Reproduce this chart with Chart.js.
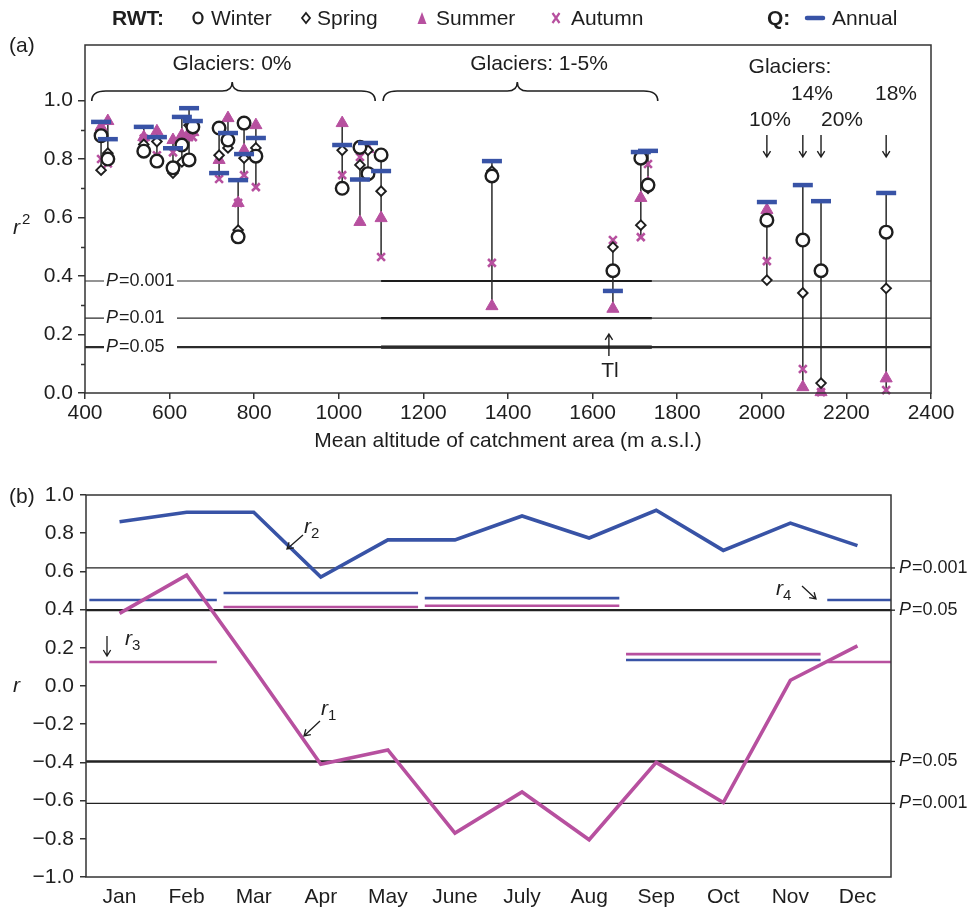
<!DOCTYPE html>
<html>
<head>
<meta charset="utf-8">
<script src="https://cdn.jsdelivr.net/npm/chart.js@4/dist/chart.umd.min.js"></script>
<style>
  html, body { margin: 0; padding: 0; background: #fff; overflow: hidden; }
  #wrap { position: relative; width: 972px; height: 914px; }
  #ca { position: absolute; left: 0; top: 0; }
  #cb { position: absolute; left: 0; top: 455px; }
</style>
</head>
<body>
<div id="wrap">
  <canvas id="ca" width="972" height="455" style="width:972px;height:455px"></canvas>
  <canvas id="cb" width="972" height="459" style="width:972px;height:459px"></canvas>
</div>
<script>
// ---- panel (a): r2 of RWT vs Q per station, by mean catchment altitude
const altitude = [438, 454, 539, 570, 608, 629, 646, 655, 717, 738, 762, 776, 804,
                  1008, 1050, 1069, 1100, 1362, 1648, 1714, 1731, 2012, 2097, 2140, 2294];
const winter = [0.88, 0.80, 0.827, 0.793, 0.77, 0.848, 0.797, 0.91, 0.906, 0.865, 0.534, 0.923, 0.81,
                0.70, 0.84, 0.75, 0.814, 0.742, 0.418, 0.803, 0.711, 0.591, 0.523, 0.418, 0.55];
const spring = [0.762, 0.82, 0.85, 0.86, 0.752, 0.79, 0.916, 0.905, 0.813, 0.838, 0.557, 0.803, 0.838,
                0.83, 0.78, 0.83, 0.69, 0.759, 0.499, 0.574, 0.70, 0.386, 0.342, 0.034, 0.358];
const summer = [0.91, 0.93, 0.875, 0.895, 0.865, 0.882, 0.89, 0.892, 0.797, 0.94, 0.65, 0.83, 0.916,
                0.923, 0.585, 0.834, 0.598, 0.297, 0.288, 0.667, 0.718, 0.626, 0.02, 0.003, 0.05];
const autumn = [0.80, 0.785, 0.87, 0.813, 0.823, 0.86, 0.875, 0.875, 0.732, 0.865, 0.65, 0.745, 0.704,
                0.745, 0.807, 0.752, 0.465, 0.445, 0.523, 0.533, 0.783, 0.451, 0.082, 0.003, 0.01];
const annual = [0.927, 0.868, 0.91, 0.875, 0.837, 0.944, 0.974, 0.93, 0.752, 0.889, 0.728, 0.817, 0.872,
                0.848, 0.73, 0.855, 0.759, 0.793, 0.349, 0.824, 0.828, 0.653, 0.711, 0.656, 0.684];
const pLevelsA = [0.383, 0.256, 0.157];
const pLabelsA = ['0.001', '0.01', '0.05'];
const yTicksA = [0, 0.2, 0.4, 0.6, 0.8, 1.0];

// ---- panel (b): monthly and seasonal correlations
const months = ['Jan', 'Feb', 'Mar', 'Apr', 'May', 'June', 'July', 'Aug', 'Sep', 'Oct', 'Nov', 'Dec'];
const r1 = [0.38, 0.58, 0.09, -0.41, -0.335, -0.77, -0.555, -0.805, -0.40, -0.61, 0.03, 0.21];
const r2 = [0.86, 0.91, 0.91, 0.57, 0.765, 0.765, 0.89, 0.775, 0.92, 0.71, 0.853, 0.735];
const seasonMonths = [[0, 1, 11], [2, 3, 4], [5, 6, 7], [8, 9, 10]];
const r3 = [0.126, 0.414, 0.42, 0.167];
const r4 = [0.45, 0.487, 0.46, 0.136];
const pLevelsB = [0.618, 0.397, -0.395, -0.615];
const pLabelsB = ['0.001', '0.05', '0.05', '0.001'];

const FONT = "'Liberation Sans', Arial, sans-serif";
const BLUE = '#3853a6';
const MAG = '#b7509f';
const INK = '#1e1e1e';

Chart.defaults.font.family = FONT;
Chart.defaults.font.size = 21;
Chart.defaults.color = INK;

function arrow(ctx, x1, y1, x2, y2) {
  const a = Math.atan2(y2 - y1, x2 - x1), h = 7;
  ctx.beginPath();
  ctx.moveTo(x1, y1); ctx.lineTo(x2, y2);
  ctx.moveTo(x2 - h * Math.cos(a - 0.55), y2 - h * Math.sin(a - 0.55));
  ctx.lineTo(x2, y2);
  ctx.lineTo(x2 - h * Math.cos(a + 0.55), y2 - h * Math.sin(a + 0.55));
  ctx.stroke();
}

function pText(ctx, x, y, lab) {
  ctx.textAlign = 'left';
  ctx.textBaseline = 'middle';
  ctx.font = 'italic 18px ' + FONT;
  ctx.fillText('P', x, y);
  const w = ctx.measureText('P').width;
  ctx.font = '18px ' + FONT;
  ctx.fillText('=' + lab, x + w + 1, y);
  return w + 1 + ctx.measureText('=' + lab).width;
}

function subText(ctx, x, y, main, sub) {
  ctx.textAlign = 'left';
  ctx.textBaseline = 'alphabetic';
  ctx.font = 'italic 21px ' + FONT;
  ctx.fillText(main, x, y);
  const w = ctx.measureText(main).width;
  ctx.font = '15px ' + FONT;
  ctx.fillText(sub, x + w, y + 5);
}

function brace(ctx, x1, x2, xm, yb, yf, yt) {
  ctx.beginPath();
  ctx.moveTo(x1, yb);
  ctx.quadraticCurveTo(x1, yf, x1 + 14, yf);
  ctx.lineTo(xm - 10, yf);
  ctx.quadraticCurveTo(xm, yf, xm, yt);
  ctx.quadraticCurveTo(xm, yf, xm + 10, yf);
  ctx.lineTo(x2 - 14, yf);
  ctx.quadraticCurveTo(x2, yf, x2, yb);
  ctx.stroke();
}

function legendMark(ctx, type, x, y) {
  ctx.save();
  ctx.beginPath();
  if (type === 'circle') {
    ctx.ellipse(x, y, 4.5, 5.5, 0, 0, 2 * Math.PI);
    ctx.lineWidth = 2.2; ctx.strokeStyle = INK; ctx.stroke();
  } else if (type === 'diamond') {
    ctx.moveTo(x, y - 5); ctx.lineTo(x + 4, y); ctx.lineTo(x, y + 5); ctx.lineTo(x - 4, y); ctx.closePath();
    ctx.lineWidth = 1.8; ctx.strokeStyle = INK; ctx.stroke();
  } else if (type === 'triangle') {
    ctx.moveTo(x, y - 6); ctx.lineTo(x + 4.5, y + 6); ctx.lineTo(x - 4.5, y + 6); ctx.closePath();
    ctx.fillStyle = MAG; ctx.fill();
  } else if (type === 'cross') {
    ctx.moveTo(x - 3.5, y - 5); ctx.lineTo(x + 3.5, y + 5);
    ctx.moveTo(x + 3.5, y - 5); ctx.lineTo(x - 3.5, y + 5);
    ctx.lineWidth = 2.2; ctx.strokeStyle = MAG; ctx.stroke();
  } else if (type === 'bar') {
    ctx.moveTo(x - 8, y); ctx.lineTo(x + 8, y);
    ctx.lineWidth = 4.5; ctx.lineCap = 'round'; ctx.strokeStyle = BLUE; ctx.stroke();
  }
  ctx.restore();
}

// range lines: min to max of the five r2 values per station
const rangeData = [];
altitude.forEach((a, i) => {
  const v = [winter[i], spring[i], summer[i], autumn[i], annual[i]];
  rangeData.push({ x: a, y: Math.min(...v) }, { x: a, y: Math.max(...v) }, { x: a, y: null });
});
const pts = (arr) => altitude.map((a, i) => ({ x: a, y: arr[i] }));

const datasetsA = [
  { data: pts(annual), pointStyle: 'line', pointRadius: 10, borderWidth: 4.5, borderColor: BLUE, order: 0, clip: false },
  { data: pts(winter), pointStyle: 'circle', pointRadius: 6.3, borderWidth: 2.4, borderColor: INK, backgroundColor: '#fff', order: 1, clip: false },
  { data: pts(spring), pointStyle: 'rectRot', pointRadius: 4.8, borderWidth: 1.9, borderColor: INK, backgroundColor: '#fff', order: 2, clip: false },
  { data: pts(autumn), pointStyle: 'crossRot', pointRadius: 5.5, borderWidth: 2.6, borderColor: MAG, order: 3, clip: false },
  { data: pts(summer), pointStyle: 'triangle', pointRadius: 7, borderWidth: 1, borderColor: MAG, backgroundColor: MAG, order: 4, clip: false },
  { data: rangeData, showLine: true, spanGaps: false, pointRadius: 0, borderWidth: 1.5, borderColor: '#2a2a2a', order: 5 }
];
pLevelsA.forEach((p, i) => {
  datasetsA.push({ data: [{ x: 400, y: p }, { x: 2400, y: p }], showLine: true, pointRadius: 0,
    borderWidth: i === 2 ? 2.2 : 1.2, borderColor: '#2b2b2b', order: 6 });
  datasetsA.push({ data: [{ x: 1100, y: p }, { x: 1740, y: p }], showLine: true, pointRadius: 0,
    borderWidth: i === 2 ? 3.2 : 2.2, borderColor: '#111', order: 6 });
});

const panelA = {
  id: 'panelA',
  afterDatasetsDraw(chart) {
    const { ctx, scales: { y } } = chart;
    ctx.save();
    // P labels over the lines
    pLevelsA.forEach((p, i) => {
      const yy = y.getPixelForValue(p);
      ctx.fillStyle = '#fff';
      ctx.fillRect(104, yy - 9, 73, 18);
      ctx.fillStyle = INK;
      pText(ctx, 106, yy, pLabelsA[i]);
    });
    ctx.restore();
  },
  afterDraw(chart) {
    const { ctx, chartArea: ca, scales: { x, y } } = chart;
    ctx.save();
    ctx.strokeStyle = '#333';
    ctx.lineWidth = 1.5;
    ctx.strokeRect(ca.left, ca.top, ca.right - ca.left, ca.bottom - ca.top);
    // minor ticks on y
    ctx.beginPath();
    for (let k = 1; k < 10; k += 2) {
      const yy = Math.round(y.getPixelForValue(k / 10)) + 0.5;
      ctx.moveTo(ca.left - 4, yy); ctx.lineTo(ca.left, yy);
    }
    ctx.stroke();
    ctx.fillStyle = INK;
    ctx.strokeStyle = INK;
    // legend row
    ctx.textBaseline = 'middle';
    ctx.textAlign = 'left';
    ctx.font = 'bold 21px ' + FONT;
    ctx.fillText('RWT:', 112, 19);
    ctx.fillText('Q:', 767, 19);
    ctx.font = '21px ' + FONT;
    legendMark(ctx, 'circle', 198, 18); ctx.fillText('Winter', 211, 19);
    legendMark(ctx, 'diamond', 306, 18); ctx.fillText('Spring', 317, 19);
    legendMark(ctx, 'triangle', 422, 18); ctx.fillText('Summer', 436, 19);
    legendMark(ctx, 'cross', 556, 18); ctx.fillText('Autumn', 571, 19);
    legendMark(ctx, 'bar', 815, 18); ctx.fillText('Annual', 832, 19);
    // panel label and axis titles
    ctx.fillText('(a)', 9, 46);
    ctx.textAlign = 'center';
    ctx.fillText('Mean altitude of catchment area (m a.s.l.)', (ca.left + ca.right) / 2, 441);
    ctx.textAlign = 'left';
    ctx.textBaseline = 'alphabetic';
    ctx.font = 'italic 21px ' + FONT;
    ctx.fillText('r', 13, 234);
    ctx.font = '15px ' + FONT;
    ctx.fillText('2', 22, 224);
    // glacier annotations
    ctx.lineWidth = 1.6;
    brace(ctx, x.getPixelForValue(416), x.getPixelForValue(1086), x.getPixelForValue(748), 101, 91, 82);
    brace(ctx, x.getPixelForValue(1105), x.getPixelForValue(1754), x.getPixelForValue(1422), 101, 91, 82);
    ctx.font = '21px ' + FONT;
    ctx.textAlign = 'center';
    ctx.textBaseline = 'middle';
    ctx.fillText('Glaciers: 0%', 232, 64);
    ctx.fillText('Glaciers: 1-5%', 539, 64);
    ctx.fillText('Glaciers:', 790, 67);
    ctx.fillText('14%', 812, 94);
    ctx.fillText('18%', 896, 94);
    ctx.fillText('10%', 770, 120);
    ctx.fillText('20%', 842, 120);
    ctx.lineWidth = 1.4;
    [21, 22, 23, 24].forEach(i => {
      const xx = x.getPixelForValue(altitude[i]);
      arrow(ctx, xx, 135, xx, 157);
    });
    const xt = x.getPixelForValue(altitude[18]);
    arrow(ctx, xt - 4, 356, xt - 4, 334);
    ctx.fillText('Tl', xt - 3, 371);
    ctx.restore();
  }
};

new Chart(document.getElementById('ca'), {
  type: 'scatter',
  data: { datasets: datasetsA },
  options: {
    responsive: false,
    animation: false,
    events: [],
    layout: { padding: { left: 0, right: 41, top: 45, bottom: 7 } },
    plugins: { legend: { display: false }, tooltip: { enabled: false } },
    scales: {
      x: {
        type: 'linear', min: 400, max: 2400,
        ticks: { stepSize: 200, padding: 2, maxRotation: 0, callback: v => String(v) },
        grid: { drawOnChartArea: false, tickLength: 6, color: '#333', lineWidth: 1.5 },
        border: { display: false },
        afterFit(s) { s.height = 55; }
      },
      y: {
        min: 0, max: 1.19,
        afterBuildTicks(s) { s.ticks = yTicksA.map(v => ({ value: v })); },
        ticks: { padding: 5, callback: v => v.toFixed(1) },
        grid: { drawOnChartArea: false, tickLength: 7, color: '#333', lineWidth: 1.5 },
        border: { display: false },
        afterFit(s) { s.width = 85; }
      }
    }
  },
  plugins: [panelA]
});

// ---- panel (b)
const segData = (vals) => {
  const out = [];
  seasonMonths.forEach((ms, si) => {
    const sorted = [...ms].sort((a, b) => a - b);
    const runs = [];
    let cur = [sorted[0]];
    for (let k = 1; k < sorted.length; k++) {
      if (sorted[k] === sorted[k - 1] + 1) cur.push(sorted[k]); else { runs.push(cur); cur = [sorted[k]]; }
    }
    runs.push(cur);
    runs.forEach(r => {
      const s = r[0] - 0.5 + 0.05;
      const e = r[r.length - 1] + 0.5 === 11.5 ? 11.5 : r[r.length - 1] + 0.5 - 0.05;
      out.push({ x: s, y: vals[si] }, { x: e, y: vals[si] }, { x: e, y: null });
    });
  });
  return out;
};

const datasetsB = [
  { data: months.map((m, i) => ({ x: i, y: r2[i] })), showLine: true, pointRadius: 0, borderWidth: 3.6, borderColor: BLUE, order: 0 },
  { data: months.map((m, i) => ({ x: i, y: r1[i] })), showLine: true, pointRadius: 0, borderWidth: 3.6, borderColor: MAG, order: 1 },
  { data: segData(r4), showLine: true, spanGaps: false, pointRadius: 0, borderWidth: 2.6, borderColor: BLUE, order: 2 },
  { data: segData(r3), showLine: true, spanGaps: false, pointRadius: 0, borderWidth: 2.6, borderColor: MAG, order: 3 }
];
pLevelsB.forEach((p, i) => {
  datasetsB.push({ data: [{ x: -0.5, y: p }, { x: 11.5, y: p }], showLine: true, pointRadius: 0,
    borderWidth: pLabelsB[i] === '0.05' ? 2.4 : 1.3, borderColor: '#222', order: 5 });
});

const TOPB = 455;
const panelB = {
  id: 'panelB',
  afterDraw(chart) {
    const { ctx, chartArea: ca, scales: { y } } = chart;
    ctx.save();
    ctx.strokeStyle = '#333';
    ctx.lineWidth = 1.5;
    ctx.strokeRect(ca.left, ca.top, ca.right - ca.left, ca.bottom - ca.top);
    ctx.fillStyle = INK;
    ctx.strokeStyle = INK;
    // P labels on the right
    pLevelsB.forEach((p, i) => {
      const yy = y.getPixelForValue(p);
      ctx.lineWidth = 1.3;
      ctx.beginPath(); ctx.moveTo(ca.right, yy); ctx.lineTo(ca.right + 4, yy); ctx.stroke();
      pText(ctx, ca.right + 8, yy, pLabelsB[i]);
    });
    ctx.font = '21px ' + FONT;
    ctx.textAlign = 'left';
    ctx.textBaseline = 'middle';
    ctx.fillText('(b)', 9, 497 - TOPB);
    ctx.textBaseline = 'alphabetic';
    ctx.font = 'italic 21px ' + FONT;
    ctx.fillText('r', 13, 692 - TOPB);
    // curve labels
    ctx.lineWidth = 1.3;
    subText(ctx, 304, 533 - TOPB, 'r', '2');
    arrow(ctx, 303, 535 - TOPB, 287, 549 - TOPB);
    subText(ctx, 321, 715 - TOPB, 'r', '1');
    arrow(ctx, 320, 721 - TOPB, 304, 736 - TOPB);
    subText(ctx, 125, 645 - TOPB, 'r', '3');
    arrow(ctx, 107, 636 - TOPB, 107, 656 - TOPB);
    subText(ctx, 776, 595 - TOPB, 'r', '4');
    arrow(ctx, 802, 586 - TOPB, 816, 599 - TOPB);
    ctx.restore();
  }
};

new Chart(document.getElementById('cb'), {
  type: 'scatter',
  data: { datasets: datasetsB },
  options: {
    responsive: false,
    animation: false,
    events: [],
    layout: { padding: { left: 0, right: 81, top: 40, bottom: 7 } },
    plugins: { legend: { display: false }, tooltip: { enabled: false } },
    scales: {
      x: {
        type: 'linear', min: -0.5, max: 11.5,
        afterBuildTicks(s) { s.ticks = months.map((m, i) => ({ value: i })); },
        ticks: { padding: 8, maxRotation: 0, autoSkip: false, callback: v => months[v] },
        grid: { display: false, drawTicks: false },
        border: { display: false },
        afterFit(s) { s.height = 30; }
      },
      y: {
        min: -1, max: 1,
        ticks: {
          stepSize: 0.2, padding: 6,
          callback: v => (Math.abs(v) < 1e-9 ? '0.0' : v.toFixed(1).replace('-', '\u2212'))
        },
        grid: { drawOnChartArea: false, tickLength: 6, color: '#333', lineWidth: 1.5 },
        border: { display: false },
        afterFit(s) { s.width = 86; }
      }
    }
  },
  plugins: [panelB]
});
</script>
</body>
</html>
